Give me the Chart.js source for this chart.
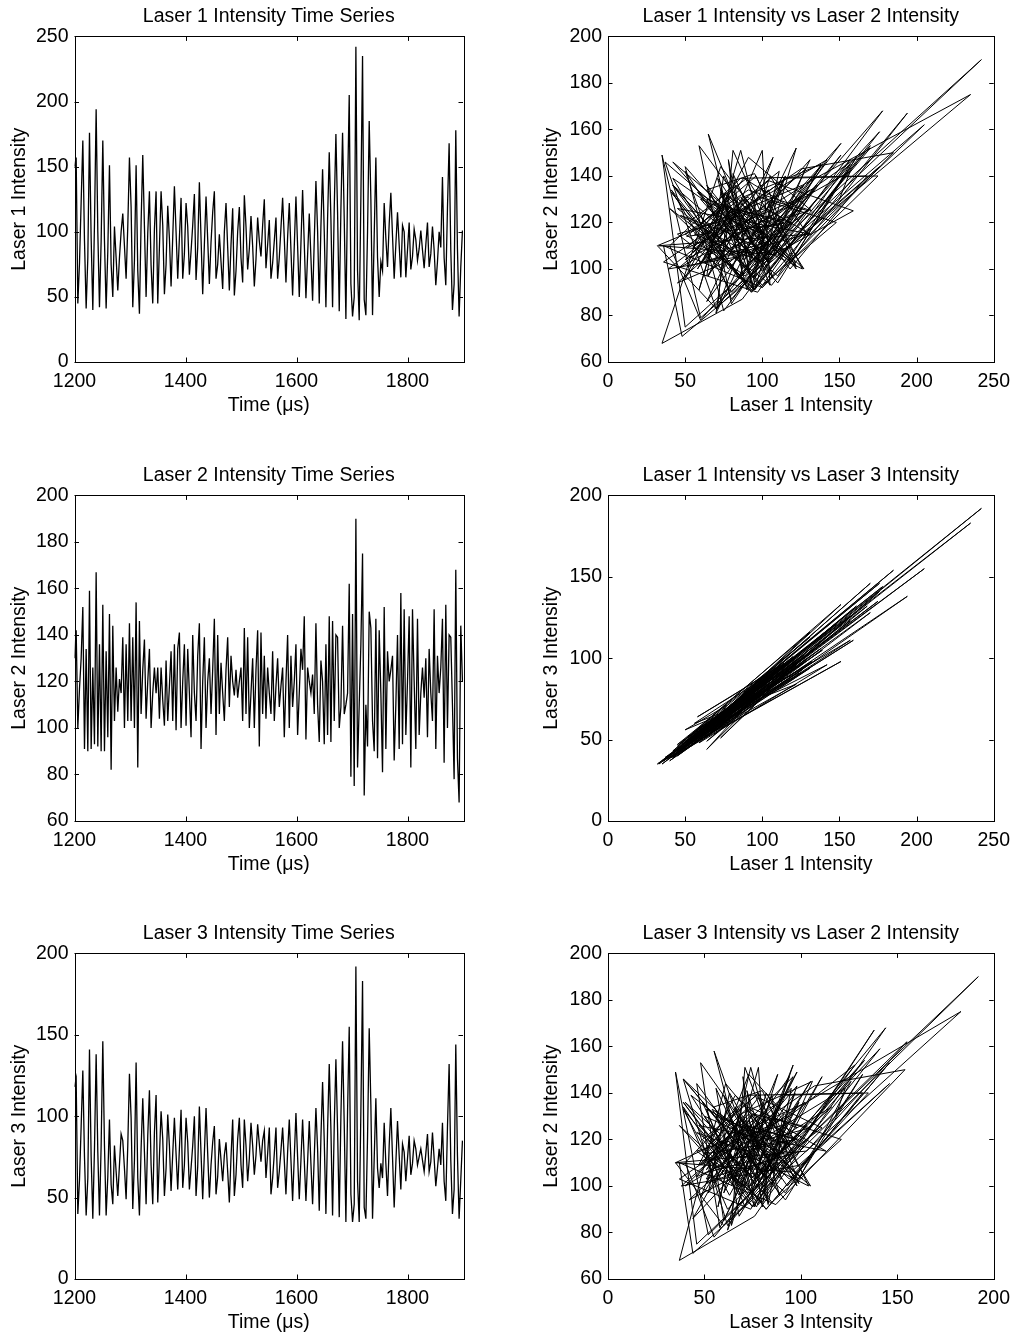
<!DOCTYPE html>
<html>
<head>
<meta charset="utf-8">
<title>Laser intensities</title>
<script src="https://cdn.jsdelivr.net/npm/chart.js@4.4.1/dist/chart.umd.min.js"></script>
<style>
  html, body { margin: 0; padding: 0; background: #fff; }
  #fig { position: relative; width: 1018px; height: 1336px; overflow: hidden; }
  #fig canvas { position: absolute; }
</style>
</head>
<body>
<div id="fig">
  <canvas id="ts1" width="509" height="420" style="left:0;top:0;width:509px;height:420px"></canvas>
  <canvas id="sc12" width="509" height="420" style="left:509px;top:0;width:509px;height:420px"></canvas>
  <canvas id="ts2" width="509" height="420" style="left:0;top:458.5px;width:509px;height:420px"></canvas>
  <canvas id="sc13" width="509" height="420" style="left:509px;top:458.5px;width:509px;height:420px"></canvas>
  <canvas id="ts3" width="509" height="420" style="left:0;top:916.5px;width:509px;height:420px"></canvas>
  <canvas id="sc32" width="509" height="420" style="left:509px;top:916.5px;width:509px;height:420px"></canvas>
</div>
<script>
// sample times (µs), every 3 µs
const times = [
  1200,1203,1206,1209,1212,1215,1218,1221,1224,1227,
  1230,1233,1236,1239,1242,1245,1248,1251,1254,1257,
  1260,1263,1266,1269,1272,1275,1278,1281,1284,1287,
  1290,1293,1296,1299,1302,1305,1308,1311,1314,1317,
  1320,1323,1326,1329,1332,1335,1338,1341,1344,1347,
  1350,1353,1356,1359,1362,1365,1368,1371,1374,1377,
  1380,1383,1386,1389,1392,1395,1398,1401,1404,1407,
  1410,1413,1416,1419,1422,1425,1428,1431,1434,1437,
  1440,1443,1446,1449,1452,1455,1458,1461,1464,1467,
  1470,1473,1476,1479,1482,1485,1488,1491,1494,1497,
  1500,1503,1506,1509,1512,1515,1518,1521,1524,1527,
  1530,1533,1536,1539,1542,1545,1548,1551,1554,1557,
  1560,1563,1566,1569,1572,1575,1578,1581,1584,1587,
  1590,1593,1596,1599,1602,1605,1608,1611,1614,1617,
  1620,1623,1626,1629,1632,1635,1638,1641,1644,1647,
  1650,1653,1656,1659,1662,1665,1668,1671,1674,1677,
  1680,1683,1686,1689,1692,1695,1698,1701,1704,1707,
  1710,1713,1716,1719,1722,1725,1728,1731,1734,1737,
  1740,1743,1746,1749,1752,1755,1758,1761,1764,1767,
  1770,1773,1776,1779,1782,1785,1788,1791,1794,1797,
  1800,1803,1806,1809,1812,1815,1818,1821,1824,1827,
  1830,1833,1836,1839,1842,1845,1848,1851,1854,1857,
  1860,1863,1866,1869,1872,1875,1878,1881,1884,1887,
  1890,1893,1896,1899
];

const laser1 = [
  150,157,45,76,123,170,93,41,80,176,
  95,40,106,194,100,42,93,170,93,41,
  85,151,75,50,104,80,55,80,100,114,
  89,64,104,157,119,42,78,151,70,37,
  107,159,104,50,99,131,74,45,102,131,
  45,88,131,105,52,75,120,95,58,96,
  135,100,64,95,126,64,83,122,104,67,
  85,105,129,63,88,138,95,52,90,127,
  94,60,92,115,131,64,75,98,77,56,
  100,122,88,55,90,118,51,70,100,119,
  80,61,128,104,71,87,112,89,58,79,
  111,93,81,105,125,72,90,109,64,76,
  93,111,64,80,103,126,95,61,96,122,
  86,51,89,127,89,50,91,132,91,49,
  82,114,80,47,93,139,101,45,104,148,
  100,42,110,161,110,42,118,175,115,39,
  117,176,110,33,131,205,60,35,50,242,
  70,32,126,235,48,36,100,185,125,36,
  97,157,80,50,77,70,122,95,73,106,
  130,97,64,90,115,90,65,105,100,65,
  86,107,71,81,102,94,78,87,101,86,
  72,90,107,73,83,104,86,59,77,100,
  88,142,80,59,118,168,86,40,60,178,
  87,35,73,101
];

const laser2 = [
  130,142,100,117,130,152,91,134,90,159,
  91,126,93,167,92,136,90,153,90,133,
  96,149,82,144,103,126,107,121,115,139,
  100,136,103,145,103,139,100,154,83,146,
  106,125,138,104,120,134,100,115,126,115,
  126,104,126,112,101,129,103,118,133,103,
  136,99,134,141,100,120,136,101,134,115,
  96,140,115,103,131,145,91,120,139,100,
  120,130,106,125,147,97,140,106,128,115,
  103,125,139,109,131,120,114,125,113,120,
  126,103,143,106,139,100,115,130,100,125,
  142,92,141,106,131,104,126,115,106,133,
  103,118,130,109,118,126,96,120,140,100,
  131,109,120,136,97,115,134,125,148,95,
  126,120,115,123,106,145,110,94,129,120,
  93,136,97,148,94,146,103,140,139,100,
  109,144,106,110,115,162,79,149,75,190,
  83,110,136,175,71,110,92,150,143,103,
  90,147,87,142,115,81,152,91,133,120,
  125,131,86,110,140,91,158,93,151,97,
  120,148,83,151,120,91,147,97,115,126,
  113,130,96,134,115,103,151,91,131,115,
  126,147,85,153,100,140,139,110,78,168,
  87,68,144,120
];

const laser3 = [
  118,123,40,61,94,128,75,39,62,141,
  75,37,80,138,78,39,82,146,82,39,
  63,98,58,46,82,66,51,70,89,85,
  68,49,82,126,99,43,73,133,62,39,
  80,111,78,46,88,116,70,46,90,113,
  47,75,103,86,51,68,101,82,54,77,
  99,77,55,80,104,56,70,99,84,55,
  68,82,100,51,69,106,77,49,77,105,
  77,50,70,84,94,52,63,86,73,60,
  76,84,66,47,75,98,51,64,86,99,
  70,56,98,82,60,74,96,82,64,76,
  95,83,72,85,91,62,77,93,52,62,
  77,93,56,66,79,93,73,52,78,98,
  73,48,75,102,75,49,73,98,73,48,
  72,97,71,46,75,105,80,42,87,121,
  85,40,92,132,92,39,94,135,92,38,
  100,146,95,35,103,155,52,35,46,192,
  60,35,103,183,44,37,87,154,107,37,
  74,111,68,56,71,62,96,71,51,82,
  105,75,44,71,97,76,55,83,78,60,
  74,88,64,71,85,80,70,75,80,73,
  66,77,89,66,72,90,74,57,68,80,
  70,96,60,48,93,132,73,40,55,144,
  76,37,61,85
];

// axis ranges / tick steps per panel
const timeTicks = { min: 1200, max: 1900, step: 200 };
const laser1Range = { min: 0, max: 250, step: 50 };
const laser2Range = { min: 60, max: 200, step: 20 };
const laser3Range = { min: 0, max: 200, step: 50 };

Chart.defaults.font.family = "'Liberation Sans', Arial, Helvetica, sans-serif";
Chart.defaults.font.size = 19.5;
Chart.defaults.color = '#000';

const TICK_LEN = 4.5;

// matlab-ish box with inward ticks on all four sides
const boxTicks = {
  id: 'boxTicks',
  afterDraw(chart) {
    const { ctx, chartArea: a, scales: { x, y } } = chart;
    ctx.save();
    ctx.strokeStyle = '#000';
    ctx.lineWidth = 1;
    ctx.beginPath();
    x.ticks.forEach(t => {
      const px = Math.round(x.getPixelForValue(t.value)) + 0.5;
      ctx.moveTo(px, a.bottom); ctx.lineTo(px, a.bottom - TICK_LEN);
      ctx.moveTo(px, a.top); ctx.lineTo(px, a.top + TICK_LEN);
    });
    y.ticks.forEach(t => {
      const py = Math.round(y.getPixelForValue(t.value)) + 0.5;
      ctx.moveTo(a.left, py); ctx.lineTo(a.left + TICK_LEN, py);
      ctx.moveTo(a.right, py); ctx.lineTo(a.right - TICK_LEN, py);
    });
    ctx.stroke();
    ctx.strokeRect(Math.round(a.left) + 0.5, Math.round(a.top) + 0.5,
      Math.round(a.right - a.left), Math.round(a.bottom - a.top));
    ctx.restore();
  }
};

function makePanel(id, opts) {
  const leftCol = opts.col === 0;
  const yWidth = leftCol ? 74.5 : 99;
  const rightPad = leftCol ? 46 : 22;
  return new Chart(document.getElementById(id), {
    type: 'scatter',
    data: {
      datasets: [{
        data: opts.points,
        showLine: true,
        borderColor: '#000',
        borderWidth: opts.lineWidth,
        pointRadius: 0,
        pointHoverRadius: 0,
        tension: 0
      }]
    },
    options: {
      responsive: false,
      animation: false,
      devicePixelRatio: 1,
      events: [],
      layout: { padding: { left: 0, right: rightPad, top: 5, bottom: 0 } },
      plugins: {
        legend: { display: false },
        tooltip: { enabled: false },
        title: {
          display: true,
          text: opts.title,
          fullSize: false,
          font: { weight: 'normal', size: 19.5 },
          padding: { top: 0, bottom: 8 }
        }
      },
      scales: {
        x: {
          type: 'linear',
          min: opts.xr.min,
          max: opts.xr.max,
          grid: { display: false, drawTicks: false },
          border: { display: false },
          ticks: {
            stepSize: opts.xr.step, includeBounds: false, padding: 8, maxRotation: 0,
            callback: v => String(v)
          },
          title: { display: true, text: opts.xLabel, padding: { top: 0, bottom: 3 } },
          afterFit(scale) { scale.height = 58; }
        },
        y: {
          type: 'linear',
          min: opts.yr.min,
          max: opts.yr.max,
          grid: { display: false, drawTicks: false },
          border: { display: false },
          ticks: { stepSize: opts.yr.step, padding: 6, callback: v => String(v) },
          title: { display: true, text: opts.yLabel, padding: { top: leftCol ? 8 : 31, bottom: 0 } },
          afterFit(scale) { scale.width = yWidth; }
        }
      }
    },
    plugins: [boxTicks]
  });
}

const series = (xs, ys) => xs.map((v, i) => ({ x: v, y: ys[i] }));

makePanel('ts1', {
  col: 0, title: 'Laser 1 Intensity Time Series',
  xLabel: 'Time (\u03bcs)', yLabel: 'Laser 1 Intensity',
  xr: timeTicks, yr: laser1Range, lineWidth: 1.3,
  points: series(times, laser1)
});
makePanel('sc12', {
  col: 1, title: 'Laser 1 Intensity vs Laser 2 Intensity',
  xLabel: 'Laser 1 Intensity', yLabel: 'Laser 2 Intensity',
  xr: laser1Range, yr: laser2Range, lineWidth: 1,
  points: series(laser1, laser2)
});
makePanel('ts2', {
  col: 0, title: 'Laser 2 Intensity Time Series',
  xLabel: 'Time (\u03bcs)', yLabel: 'Laser 2 Intensity',
  xr: timeTicks, yr: laser2Range, lineWidth: 1.3,
  points: series(times, laser2)
});
makePanel('sc13', {
  col: 1, title: 'Laser 1 Intensity vs Laser 3 Intensity',
  xLabel: 'Laser 1 Intensity', yLabel: 'Laser 3 Intensity',
  xr: laser1Range, yr: laser3Range, lineWidth: 1,
  points: series(laser1, laser3)
});
makePanel('ts3', {
  col: 0, title: 'Laser 3 Intensity Time Series',
  xLabel: 'Time (\u03bcs)', yLabel: 'Laser 3 Intensity',
  xr: timeTicks, yr: laser3Range, lineWidth: 1.3,
  points: series(times, laser3)
});
makePanel('sc32', {
  col: 1, title: 'Laser 3 Intensity vs Laser 2 Intensity',
  xLabel: 'Laser 3 Intensity', yLabel: 'Laser 2 Intensity',
  xr: laser3Range, yr: laser2Range, lineWidth: 1,
  points: series(laser3, laser2)
});
</script>
</body>
</html>
